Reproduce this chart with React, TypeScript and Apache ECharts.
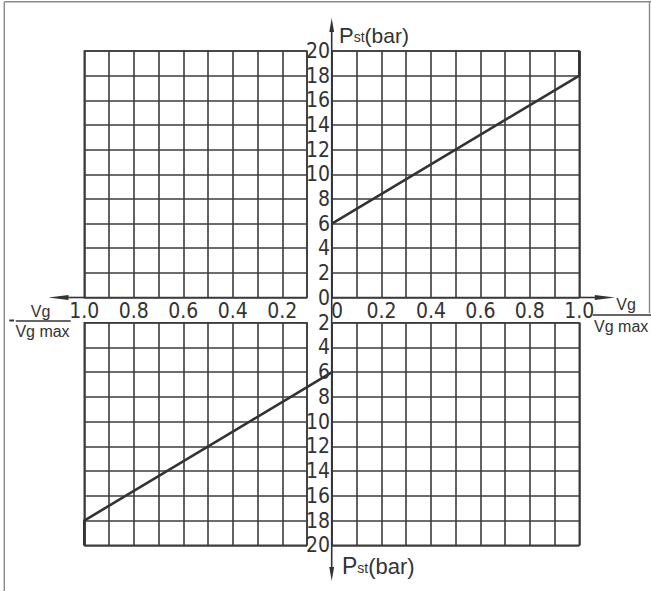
import { useEffect, useRef } from "react";
import * as echarts from "echarts";

// ---- data ----
const upperX = [0, 1.0, 1.0];
const upperY = [6, 18, 20];
const lowerX = [0, -1.0, -1.0];
const lowerY = [-6, -18, -20];
const rightXRange = [0, 1.0];
const leftXRange = [-1.0, -0.1];
const upperYRange = [0, 20];
const lowerYRange = [-20, -2];
const xStep = 0.1;
const yStep = 2;
const yTitle = "Pst(bar)";
const xTitleTop = "Vg";
const xTitleBottom = "Vg max";

const NARROW = "'Liberation Sans Narrow', 'Arial Narrow', 'DejaVu Sans Condensed', 'Liberation Sans', sans-serif";
const SANS = "'Liberation Sans', Arial, sans-serif";
const INK = "#333";
const GRIDC = "#3c3c3c";

function xFmt(v: number) {
  const k = Math.round(Math.abs(v) * 10);
  if (k % 2 !== 0) return "";
  if (k === 0) return "{z|0}";
  return (k / 10).toFixed(1);
}
function yFmt(v: number) {
  return String(Math.round(Math.abs(v)));
}

export default function App() {
  const ref = useRef<HTMLDivElement>(null);
  useEffect(() => {
    if (!ref.current) return;
    const chart = echarts.init(ref.current, null, { renderer: "svg" });
    const G = { lx: 84.3, lw: 222.7, rx: 332, rw: 247.3, ut: 51, uh: 246.5, bt: 322.7, bh: 222.6 };
    const axY = G.ut + G.uh; // horizontal axis y
    const vx = 331.7; // vertical axis x
    const split = { show: true, lineStyle: { color: GRIDC, width: 1.6 } };
    const gridBase = { show: true, borderColor: GRIDC, borderWidth: 1.6, backgroundColor: "transparent" };
    const labelFont = { fontFamily: NARROW, fontSize: 21, color: INK };
    const mkX = (gi: number, range: number[], labels: boolean) => ({
      type: "value",
      gridIndex: gi,
      min: range[0],
      max: range[1],
      interval: xStep,
      axisLine: { show: false },
      axisTick: { show: false },
      splitLine: split,
      axisLabel: labels
        ? {
            show: true,
            formatter: xFmt,
            margin: 3,
            showMinLabel: true,
            showMaxLabel: true,
            ...labelFont,
            rich: { z: { ...labelFont, padding: [0, 0, 0, 10] } },
          }
        : { show: false },
    });
    const mkY = (gi: number, range: number[], labels: boolean, pad: number[]) => ({
      type: "value",
      gridIndex: gi,
      min: range[0],
      max: range[1],
      interval: yStep,
      position: "left",
      axisLine: { show: false },
      axisTick: { show: false },
      splitLine: split,
      axisLabel: labels
        ? { show: true, formatter: yFmt, margin: 2, showMinLabel: true, showMaxLabel: true, padding: pad, ...labelFont }
        : { show: false },
    });

    const titleRich = (big: number) => ({
      P: { fontFamily: SANS, fontSize: big, fill: INK, color: INK },
      s: { fontFamily: SANS, fontSize: 14, fill: INK, color: INK, padding: [3, 0, 0, 0] },
      b: { fontFamily: SANS, fontSize: big - 1, fill: INK, color: INK },
    });
    const titleText = "{P|P}{s|st}{b|(bar)}";

    chart.setOption({
      animation: false,
      backgroundColor: "#fff",
      grid: [
        { left: G.lx, top: G.ut, width: G.lw, height: G.uh, ...gridBase },
        { left: G.rx, top: G.ut, width: G.rw, height: G.uh, ...gridBase },
        { left: G.lx, top: G.bt, width: G.lw, height: G.bh, ...gridBase },
        { left: G.rx, top: G.bt, width: G.rw, height: G.bh, ...gridBase },
        { left: G.lx, top: G.bt, width: G.rx - G.lx, height: G.bh, show: false },
      ],
      xAxis: [
        mkX(0, leftXRange, true),
        mkX(1, rightXRange, true),
        mkX(2, leftXRange, false),
        mkX(3, rightXRange, false),
        { type: "value", gridIndex: 4, min: leftXRange[0], max: rightXRange[0], show: false },
      ],
      yAxis: [
        mkY(0, upperYRange, false, [0, 0, 0, 0]),
        mkY(1, upperYRange, true, [4, 0, 0, 0]),
        mkY(2, lowerYRange, false, [0, 0, 0, 0]),
        mkY(3, lowerYRange, true, [0, 0, 8, 0]),
        { type: "value", gridIndex: 4, min: lowerYRange[0], max: lowerYRange[1], show: false },
      ],
      series: [
        {
          type: "line",
          xAxisIndex: 1,
          yAxisIndex: 1,
          data: upperX.map((x, i) => [x, upperY[i]]),
          symbol: "none",
          lineStyle: { color: INK, width: 2.6 },
          z: 5,
        },
        {
          type: "line",
          xAxisIndex: 4,
          yAxisIndex: 4,
          data: lowerX.map((x, i) => [x, lowerY[i]]),
          symbol: "none",
          lineStyle: { color: INK, width: 2.6 },
          z: 5,
        },
      ],
      graphic: [
        // frame
        { type: "line", shape: { x1: 4.3, y1: 1.7, x2: 651, y2: 1.7 }, style: { stroke: "#8a8a8a", lineWidth: 1.4 } },
        { type: "line", shape: { x1: 4.3, y1: 1.7, x2: 4.3, y2: 591 }, style: { stroke: "#8a8a8a", lineWidth: 1.4 } },
        { type: "line", shape: { x1: 649.5, y1: 1.7, x2: 649.5, y2: 313 }, style: { stroke: "#8a8a8a", lineWidth: 1.4 } },
        // vertical axis
        { type: "line", shape: { x1: vx, y1: 28, x2: vx, y2: 571 }, style: { stroke: INK, lineWidth: 1.6 }, z: 10 },
        { type: "polygon", shape: { points: [[vx, 18], [vx - 2.4, 32], [vx + 2.4, 32]] }, style: { fill: INK }, z: 10 },
        { type: "polygon", shape: { points: [[vx, 581], [vx - 2.4, 567], [vx + 2.4, 567]] }, style: { fill: INK }, z: 10 },
        // horizontal axis arrows
        { type: "line", shape: { x1: 66, y1: axY, x2: G.lx, y2: axY }, style: { stroke: INK, lineWidth: 1.6 }, z: 10 },
        { type: "polygon", shape: { points: [[48.3, axY], [68.5, axY - 2.6], [68.5, axY + 2.6]] }, style: { fill: INK }, z: 10 },
        { type: "line", shape: { x1: G.rx + G.rw, y1: axY, x2: 597, y2: axY }, style: { stroke: INK, lineWidth: 1.6 }, z: 10 },
        { type: "polygon", shape: { points: [[615, axY], [594.8, axY - 2.6], [594.8, axY + 2.6]] }, style: { fill: INK }, z: 10 },
        // y titles
        {
          type: "text",
          x: 339,
          y: 35,
          style: { text: titleText, rich: titleRich(22), verticalAlign: "middle", fill: INK },
          z: 10,
        },
        {
          type: "text",
          x: 342,
          y: 566,
          style: { text: titleText, rich: titleRich(23), verticalAlign: "middle", fill: INK },
          z: 10,
        },
        // right x title (fraction)
        { type: "text", x: 626, y: 304.5, style: { text: xTitleTop, font: `16px ${SANS}`, fill: INK, align: "center", verticalAlign: "middle" } },
        { type: "line", shape: { x1: 592.7, y1: 315, x2: 651, y2: 315 }, style: { stroke: INK, lineWidth: 1.3 } },
        { type: "text", x: 621.2, y: 326, style: { text: xTitleBottom, font: `16px ${SANS}`, fill: INK, align: "center", verticalAlign: "middle" } },
        // left x title (negative fraction)
        { type: "line", shape: { x1: 9.3, y1: 320.5, x2: 14, y2: 320.5 }, style: { stroke: INK, lineWidth: 2 } },
        { type: "text", x: 40.5, y: 311, style: { text: xTitleTop, font: `16px ${SANS}`, fill: INK, align: "center", verticalAlign: "middle" } },
        { type: "line", shape: { x1: 15.7, y1: 321, x2: 70.7, y2: 321 }, style: { stroke: INK, lineWidth: 1.3 } },
        { type: "text", x: 42.5, y: 331.5, style: { text: xTitleBottom, font: `16px ${SANS}`, fill: INK, align: "center", verticalAlign: "middle" } },
      ],
    });
    return () => chart.dispose();
  }, []);
  return <div ref={ref} style={{ position: "fixed", left: 0, top: 0, width: 651, height: 591, background: "#fff" }} />;
}
